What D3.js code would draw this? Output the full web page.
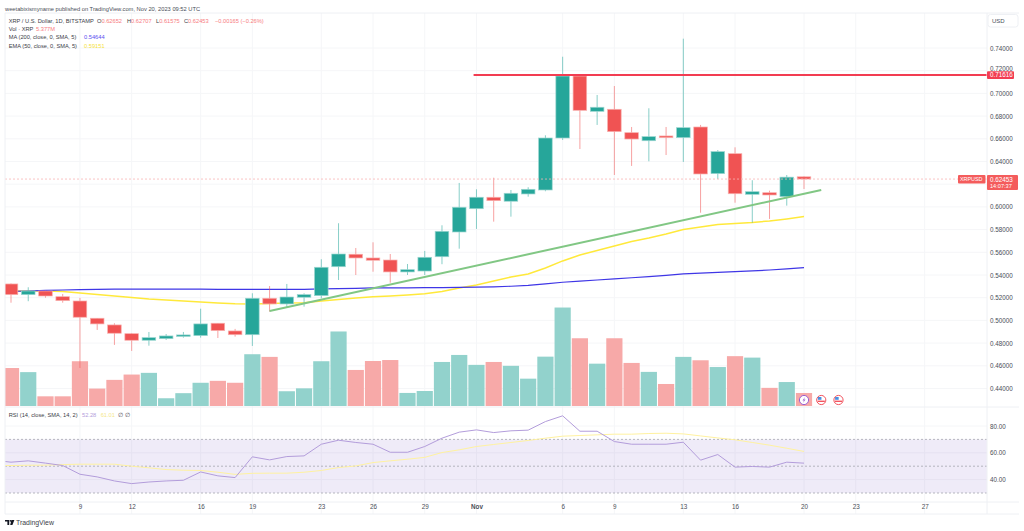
<!DOCTYPE html>
<html><head><meta charset="utf-8">
<script src="https://cdn.jsdelivr.net/npm/d3@7"></script>
<style>html,body{margin:0;padding:0;background:#fff;overflow:hidden}svg{display:block}text{font-family:"Liberation Sans",Arial,sans-serif}</style>
</head><body><svg id="c" width="1024" height="531"></svg>
<script>
// Daily candles from 5 Oct to 20 Nov 2023
const firstDay = "2023-10-05";
const opens = [.5321,.5227,.5259,.5209,.5171,.5019,.4960,.4883,.4825,.4839,.4860,.4866,.4975,.4907,.4874,.5195,.5145,.5204,.5218,.5473,.5583,.5550,.5532,.5427,.5435,.5561,.5779,.5984,.6085,.6050,.6114,.6149,.6607,.7153,.6842,.6860,.6654,.6583,.6625,.6610,.6704,.6293,.6469,.6111,.6125,.6090,.62652];
const highs = [.5325,.5292,.5262,.5233,.5198,.5021,.4975,.4889,.4898,.4880,.4898,.5103,.4977,.4925,.5239,.5303,.5321,.5239,.5539,.5856,.5638,.5688,.5585,.5497,.5612,.5838,.6211,.6155,.6257,.6149,.6173,.6631,.7323,.7162,.6986,.7065,.6704,.6869,.6704,.7482,.6722,.6501,.6525,.6235,.6143,.6281,.62707];
const lows = [.5156,.5169,.5200,.5156,.4581,.4916,.4784,.4731,.4777,.4828,.4848,.4848,.4845,.4857,.4775,.5077,.5110,.5121,.5195,.5356,.5400,.5429,.5332,.5400,.5400,.5495,.5632,.5806,.5870,.5914,.6090,.6138,.6590,.6510,.6722,.6281,.6361,.6402,.6457,.6396,.5949,.6246,.6037,.5861,.5894,.6011,.61575];
const closes = [.5227,.5259,.5215,.5174,.5028,.4969,.4887,.4825,.4848,.4863,.4872,.4969,.4910,.4874,.5195,.5145,.5206,.5227,.5468,.5585,.5550,.5530,.5427,.5447,.5556,.5785,.5997,.6085,.6055,.6120,.6155,.6607,.7153,.6851,.6878,.6663,.6598,.6619,.6610,.6698,.6290,.6487,.6116,.6134,.6105,.6262,.62453];
const volumes = [15.7,14.0,4.0,4.0,18.5,7.2,10.8,13.0,13.7,3.2,5.3,9.6,10.4,9.6,21.4,20.3,6.1,7.3,18.5,30.8,14.9,18.6,19.0,5.4,6.2,18.2,21.1,17.0,18.2,16.6,11.3,20.4,40.7,28.0,17.5,28.0,17.8,14.1,9.1,20.3,18.9,16.1,20.6,20.0,7.5,9.9,5.377];
// Indicator lines start one day earlier, 4 Oct, just off the left edge
const lineStart = "2023-10-04";
const ma200 = [.5252,.5255,.5259,.5264,.5268,.5271,.5273,.5275,.5276,.5276,.5276,.5275,.5275,.5274,.5274,.5273,.5273,.5273,.5274,.5277,.5280,.5283,.5286,.5286,.5287,.5288,.5289,.5291,.5293,.5296,.5301,.5308,.5322,.5336,.5346,.5356,.5366,.5376,.5386,.5397,.5410,.5417,.5424,.5430,.5436,.5444,.5454,.54644];
const ema50 = [.5259,.5259,.5259,.5259,.5255,.5242,.5229,.5215,.5202,.5189,.5180,.5171,.5162,.5154,.5147,.5145,.5149,.5154,.5156,.5171,.5184,.5198,.5209,.5215,.5224,.5235,.5255,.5286,.5312,.5347,.5383,.5409,.5462,.5524,.5576,.5616,.5656,.5695,.5726,.5761,.5801,.5823,.5845,.5854,.5863,.5876,.5894,.59151];
const rsi = [54.5,53,54,52.3,50.5,44,42,39,37,38.2,39,39.5,45.7,42.8,41.5,57,54.7,57.2,57.7,66.4,69.4,67.7,66.4,60.4,60.4,64.7,70.9,75.4,77.1,75.1,76.4,76.9,83.3,87.6,76.1,76.1,68.4,66.4,66.4,66.4,67.9,54.5,58.7,49.3,49.8,49.3,53,52.28];
const rsiMa = [50.5,50.5,50.7,50.8,51.2,51.5,51.5,51.5,50,48.8,47.5,47,46.8,45.5,43.9,44.7,44.8,44.8,45.5,46.8,49,50.2,52.7,54,55.2,56.6,60.2,62.2,64.7,66.2,67.7,69.2,70.9,72.4,72.9,73.4,73.9,73.9,74.4,74.6,74.1,72.6,71.1,69.7,67.7,65.7,63.4,61.01];
// Drawings and levels
const trendDates = ["2023-10-20","2023-11-21"];
const trendValues = [.5083,.6149];
const resistanceStart = "2023-10-31T20:00Z";
const resistance = .71616;
const lastPrice = .62453;
// Axis labels
const priceTicks = [.44,.46,.48,.50,.52,.54,.56,.58,.60,.62,.64,.66,.68,.70,.72,.74];
const rsiTicks = [40,60,80];
const rsiBands = [30,50,70];
const timeTicks = ["2023-10-09","2023-10-12","2023-10-16","2023-10-19","2023-10-23","2023-10-26","2023-10-29","2023-11-01","2023-11-06","2023-11-09","2023-11-13","2023-11-16","2023-11-20","2023-11-23","2023-11-27"];
const eventDays = ["2023-11-20","2023-11-21","2023-11-22"];

const DAY = 864e5, UP="#26a69a", DN="#f05353", GRID="#f5f6f8", BORDER="#eef0f4", TXT="#4a4e57";
const d0 = new Date(firstDay+"T00:00Z"), l0 = new Date(lineStart+"T00:00Z");
const dateAt = i => new Date(+d0 + i*DAY), lineAt = i => new Date(+l0 + i*DAY);
const P = {l:5,r:987,t:13,split:406,rsiB:502,b:514,outer:1019};

const x = d3.scaleUtc().domain([d0,new Date("2023-11-20T00:00Z")]).range([11,804]);
const y = d3.scaleLinear().domain([.44,.74]).range([388.5,48]);
const yV = d3.scaleLinear().domain([0,41]).range([406,306.8]);
const yR = d3.scaleLinear().domain([30,70]).range([493,439.4]);

const svg = d3.select("#c");
svg.append("rect").attr("width",1024).attr("height",531).attr("fill","#fff");
const defs = svg.append("defs");
defs.append("clipPath").attr("id","main").append("rect").attr("x",P.l).attr("y",P.t).attr("width",P.r-P.l).attr("height",P.split-P.t);
defs.append("clipPath").attr("id","low").append("rect").attr("x",P.l).attr("y",P.split).attr("width",P.r-P.l).attr("height",P.rsiB-P.split);

const tickDates = timeTicks.map(s=>new Date(s+"T00:00Z"));
// grids
const grid = svg.append("g").attr("stroke",GRID).attr("stroke-width",1);
grid.selectAll(".v").data(tickDates).join("line").attr("x1",d=>x(d)).attr("x2",d=>x(d)).attr("y1",P.t).attr("y2",P.b);
grid.selectAll(".h").data(priceTicks).join("line").attr("x1",P.l).attr("x2",P.r).attr("y1",d=>y(d)).attr("y2",d=>y(d));
grid.selectAll(".r").data(rsiTicks).join("line").attr("x1",P.l).attr("x2",P.r).attr("y1",d=>yR(d)).attr("y2",d=>yR(d));

const main = svg.append("g").attr("clip-path","url(#main)");
// volume
const idx = d3.range(opens.length);
main.selectAll(".vol").data(idx).join("rect")
 .attr("x",i=>x(dateAt(i))-8.1).attr("width",16.2)
 .attr("y",i=>yV(volumes[i])).attr("height",i=>yV(0)-yV(volumes[i]))
 .attr("fill",i=>closes[i]>=opens[i]?"#92d2cc":"#f7a9a8");
// lines
const lineOf = (yy)=>d3.line().x((d,i)=>x(lineAt(i))).y(d=>yy(d));
main.append("path").attr("d",lineOf(y)(ema50)).attr("fill","none").attr("stroke","#ffe93b").attr("stroke-width",1.5);
main.append("path").attr("d",lineOf(y)(ma200)).attr("fill","none").attr("stroke","#3f36e6").attr("stroke-width",1.2);
// wicks + bodies
main.selectAll(".w").data(idx).join("line")
 .attr("x1",i=>x(dateAt(i))).attr("x2",i=>x(dateAt(i)))
 .attr("y1",i=>y(highs[i])).attr("y2",i=>y(lows[i]))
 .attr("stroke",i=>closes[i]>=opens[i]?UP:DN).attr("stroke-opacity",.55).attr("stroke-width",1);
main.selectAll(".b").data(idx).join("rect")
 .attr("x",i=>x(dateAt(i))-6.8).attr("width",13.6)
 .attr("y",i=>y(Math.max(opens[i],closes[i])))
 .attr("height",i=>Math.max(1.5,Math.abs(y(opens[i])-y(closes[i]))))
 .attr("fill",i=>closes[i]>=opens[i]?UP:DN)
 .attr("stroke",i=>closes[i]>=opens[i]?"#9cd6d0":"#f8b0ae").attr("stroke-width",.7);
// trend + level
main.append("line").attr("x1",x(new Date(trendDates[0]+"T00:00Z"))).attr("x2",x(new Date(trendDates[1]+"T00:00Z")))
 .attr("y1",y(trendValues[0])).attr("y2",y(trendValues[1])).attr("stroke","#81c784").attr("stroke-width",2);
main.append("line").attr("x1",x(new Date(resistanceStart))).attr("x2",P.r)
 .attr("y1",y(resistance)).attr("y2",y(resistance)).attr("stroke","#f23d52").attr("stroke-width",2);
main.append("line").attr("x1",P.l).attr("x2",P.r).attr("y1",y(lastPrice)).attr("y2",y(lastPrice))
 .attr("stroke","#f7b4b4").attr("stroke-width",.8).attr("stroke-dasharray","2 2");
// event markers
const ev = main.selectAll(".e").data(eventDays).join("g").attr("transform",d=>`translate(${x(new Date(d+"T00:00Z"))},400)`);
ev.append("circle").attr("r",4.6).attr("fill","#fff").attr("stroke",(d,i)=>i?"#f2545f":"#9b5fd0").attr("stroke-width",1);
ev.filter((d,i)=>i>0).append("rect").attr("x",-3.4).attr("y",-3).attr("width",3.6).attr("height",2.8).attr("fill","#4a90e2");
ev.filter((d,i)=>i>0).append("rect").attr("x",-3.6).attr("y",.6).attr("width",7.2).attr("height",1.4).attr("fill","#f2545f");
ev.filter((d,i)=>i===0).append("path").attr("d","M1,-3L-1.5,.5H0L-1,3L1.5,-.5H0Z").attr("fill","#9b5fd0");

// RSI pane
const low = svg.append("g").attr("clip-path","url(#low)");
low.append("rect").attr("x",P.l).attr("width",P.r-P.l).attr("y",yR(70)).attr("height",yR(30)-yR(70)).attr("fill","#7e57c2").attr("fill-opacity",.12);
low.selectAll(".bd").data(rsiBands).join("line").attr("x1",P.l).attr("x2",P.r).attr("y1",d=>yR(d)).attr("y2",d=>yR(d))
 .attr("stroke","#a5a6ae").attr("stroke-width",.8).attr("stroke-dasharray","2 2");
low.append("path").attr("d",lineOf(yR)(rsiMa)).attr("fill","none").attr("stroke","#fff2a0").attr("stroke-width",1);
low.append("path").attr("d",lineOf(yR)(rsi)).attr("fill","none").attr("stroke","#b39ddb").attr("stroke-width",1);

// frame
const frame = svg.append("g").attr("stroke",BORDER).attr("fill","none");
frame.append("path").attr("d",`M${P.l},${P.t}H${P.outer}M${P.l},${P.t}V${P.b}H${P.outer}M${P.l},${P.split+1}H${P.outer}M${P.l},${P.rsiB}H${P.outer}M${P.r},${P.t}V${P.b}`);

// axes
const AX=6.3;
const styleAxis = g=>{g.select(".domain").remove();g.selectAll("line").remove();g.selectAll("text").attr("fill",TXT).attr("font-size",AX);};
svg.append("g").attr("transform",`translate(${P.r+3},0)`)
 .call(d3.axisRight(y).tickValues(priceTicks.filter(d=>d!==.72&&d!==.62)).tickSize(0).tickPadding(0).tickFormat(d3.format(".5f"))).call(styleAxis);
svg.append("g").attr("transform",`translate(${P.r+3},0)`)
 .call(d3.axisRight(yR).tickValues(rsiTicks).tickSize(0).tickPadding(0).tickFormat(d3.format(".2f"))).call(styleAxis);
const xAxis = svg.append("g").attr("transform",`translate(0,${P.rsiB+2.5})`)
 .call(d3.axisBottom(x).tickValues(tickDates).tickSize(0).tickPadding(0).tickFormat(d=>d.getUTCDate()===1?"Nov":d.getUTCDate())).call(styleAxis);
xAxis.selectAll("text").attr("font-weight",d=>d.getUTCDate()===1?"700":"400");

// price labels
const tag=(X,Y,W,H,c)=>svg.append("rect").attr("x",X).attr("y",Y).attr("width",W).attr("height",H).attr("fill",c).attr("rx",1);
const lab=(X,Y,t,c,s=AX)=>svg.append("text").attr("x",X).attr("y",Y).attr("dy",".35em").attr("fill",c).attr("font-size",s).text(t);
// the 0.72000 label shows just above the level tag, as in the picture
lab(P.r+3,y(.72)-1.5,d3.format(".5f")(.72),TXT);
tag(P.r,y(resistance)-3.8,27,7.8,"#f23d52");
lab(P.r+3,y(resistance),d3.format(".5f")(resistance),"#fff");
tag(958,175,27.5,8.5,"#f45c5c");
lab(960,179.3,"XRPUSD","#fff",5.4);
tag(P.r,175,31,15,"#f45c5c");
lab(P.r+3,179.3,d3.format(".5f")(lastPrice),"#fff");
lab(P.r+3,186,"14:07:37","#fff",5.6);
svg.append("rect").attr("x",P.r+1).attr("y",14.5).attr("width",30).attr("height",12.5).attr("rx",2.5).attr("fill","#fff").attr("stroke","#eef0f4");
lab(P.r+5,20.8,"USD",TXT,6);

// header
const RED="#f77c80", LG=5.7;
lab(5,8.5,"weetabixismyname published on TradingView.com, Nov 20, 2023 09:52 UTC","#4a4e57",5.75);
const ink="#3c4048";
lab(8.7,21,"XRP / U.S. Dollar, 1D, BITSTAMP",ink,LG);
[["O",97,"0.62652"],["H",127,"0.62707"],["L",156,"0.61575"],["C",184,"0.62453"]].forEach(([k,X,v])=>{
  const a=lab(X,21,k,ink,LG);
  lab(X+a.node().getComputedTextLength(),21,v,RED,LG);
});
lab(215,21,"−0.00165 (−0.26%)",RED,LG);
lab(8.7,29.2,"Vol · XRP",ink,LG); lab(36,29.2,"5.377M",RED,LG);
lab(8.7,37.4,"MA (200, close, 0, SMA, 5)",ink,LG); lab(84,37.4,"0.54644","#5a50f0",LG);
lab(8.7,45.6,"EMA (50, close, 0, SMA, 5)",ink,LG); lab(84,45.6,"0.59151","#f5e23a",LG);
lab(8.7,415,"RSI (14, close, SMA, 14, 2)",ink,LG); lab(82,415,"52.28","#b39ddb",LG); lab(100.7,415,"61.01","#f5e88a",LG);
lab(118,415,"∅",ink,LG); lab(125,415,"∅",ink,LG);

// footer
svg.append("path").attr("d","M5,520H9.2V525H7.4V521.6H5ZM11.4,520H14.4L12.4,525H10.2Z M9.6,520.9a.8,.8 0 1,0 1.6,0a.8,.8 0 1,0 -1.6,0").attr("fill","#131722");
lab(16,522.6,"TradingView","#3c4048",6.9);
</script></body></html>
